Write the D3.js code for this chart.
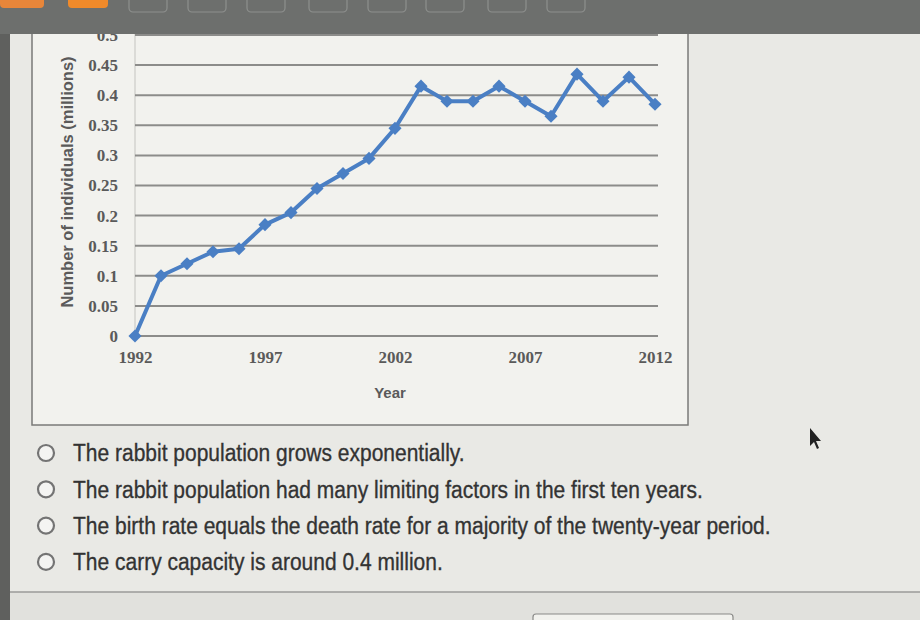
<!DOCTYPE html>
<html>
<head>
<meta charset="utf-8">
<script src="https://cdn.jsdelivr.net/npm/d3@7"></script>
<style>
  body { margin: 0; background: #e9e9e5; }
  svg { display: block; }
</style>
</head>
<body>
<div id="chart"></div>
<script>
  // values
  const years = [1992, 1993, 1994, 1995, 1996, 1997, 1998, 1999, 2000, 2001, 2002,
                 2003, 2004, 2005, 2006, 2007, 2008, 2009, 2010, 2011, 2012];
  const population = [0, 0.10, 0.12, 0.14, 0.145, 0.185, 0.205, 0.245, 0.27, 0.295, 0.345,
                      0.415, 0.39, 0.39, 0.415, 0.39, 0.365, 0.435, 0.39, 0.43, 0.385];
  const yTicks = [0, 0.05, 0.1, 0.15, 0.2, 0.25, 0.3, 0.35, 0.4, 0.45, 0.5];
  const xTicks = [1992, 1997, 2002, 2007, 2012];
  const options = [
    "The rabbit population grows exponentially.",
    "The rabbit population had many limiting factors in the first ten years.",
    "The birth rate equals the death rate for a majority of the twenty-year period.",
    "The carry capacity is around 0.4 million."
  ];

  const width = 920, height = 620;
  const svg = d3.select("#chart")
    .append("svg")
      .attr("width", width)
      .attr("height", height);

  // page background and left dark strip
  svg.append("rect").attr("width", width).attr("height", height).attr("fill", "#e9e9e5");
  svg.append("rect").attr("x", 0).attr("y", 0).attr("width", 10).attr("height", height).attr("fill", "#5f605e");

  // chart frame
  svg.append("rect")
    .attr("x", 32).attr("y", 20).attr("width", 656).attr("height", 405)
    .attr("fill", "#f2f2ee")
    .attr("stroke", "#7a7a78")
    .attr("stroke-width", 1.5);

  const x = d3.scaleLinear().domain([1992, 2012]).range([135, 655]);
  const y = d3.scaleLinear().domain([0, 0.5]).range([336, 35]);

  // plot area left edge
  svg.append("line")
    .attr("x1", 135).attr("x2", 135).attr("y1", 20).attr("y2", 336)
    .attr("stroke", "#c4c4c0").attr("stroke-width", 1);

  // gridlines
  svg.append("g")
    .selectAll("line")
    .data(yTicks)
    .join("line")
      .attr("x1", x(1992)).attr("x2", x(2012) + 3)
      .attr("y1", d => y(d)).attr("y2", d => y(d))
      .attr("stroke", "#8c8c8a")
      .attr("stroke-width", 2);

  const tickFont = "'Liberation Serif', 'Times New Roman', serif";

  // y axis labels
  const yAxis = d3.axisLeft(y).tickValues(yTicks).tickSize(0).tickPadding(0)
    .tickFormat(d => String(+d.toFixed(2)));
  const yG = svg.append("g")
    .attr("transform", "translate(118,0)")
    .call(yAxis);
  yG.select(".domain").remove();
  yG.selectAll("text")
    .attr("fill", "#5a5a5a")
    .style("font-family", tickFont)
    .style("font-size", "17px")
    .style("font-weight", "bold");

  // x axis labels
  const xAxis = d3.axisBottom(x).tickValues(xTicks).tickSize(0).tickPadding(0)
    .tickFormat(d3.format("d"));
  const xG = svg.append("g")
    .attr("transform", "translate(0,351)")
    .call(xAxis);
  xG.select(".domain").remove();
  xG.selectAll("text")
    .attr("fill", "#5a5a5a")
    .style("font-family", tickFont)
    .style("font-size", "17px")
    .style("font-weight", "bold");

  // axis titles
  svg.append("text")
    .attr("x", 390).attr("y", 398)
    .attr("text-anchor", "middle")
    .attr("fill", "#5a5a5a")
    .style("font-family", "'Liberation Sans', Arial, sans-serif")
    .style("font-size", "15px")
    .style("font-weight", "bold")
    .text("Year");

  svg.append("text")
    .attr("transform", "translate(73,182) rotate(-90)")
    .attr("text-anchor", "middle")
    .attr("fill", "#5a5a5a")
    .style("font-family", "'Liberation Sans', Arial, sans-serif")
    .style("font-size", "16.5px")
    .style("font-weight", "bold")
    .text("Number of individuals (millions)");

  // the series
  const series = years.map((yr, i) => ({year: yr, value: population[i]}));
  const line = d3.line().x(d => x(d.year)).y(d => y(d.value));
  svg.append("path")
    .datum(series)
    .attr("d", line)
    .attr("fill", "none")
    .attr("stroke", "#4a7fc4")
    .attr("stroke-width", 4)
    .attr("stroke-linejoin", "round");

  svg.append("g")
    .selectAll("path")
    .data(series)
    .join("path")
      .attr("d", d3.symbol(d3.symbolDiamond2, 110))
      .attr("transform", d => `translate(${x(d.year)},${y(d.value)})`)
      .attr("fill", "#4a7fc4");

  // top toolbar band
  svg.append("rect").attr("x", 0).attr("y", 0).attr("width", width).attr("height", 34).attr("fill", "#6d6f6d");
  svg.append("rect").attr("x", 0).attr("y", -6).attr("width", 44).attr("height", 14).attr("rx", 4).attr("fill", "#e8863a");
  svg.append("rect").attr("x", 68).attr("y", -6).attr("width", 40).attr("height", 14).attr("rx", 4).attr("fill", "#f08a2a");
  const tabs = [129, 188, 247, 309, 368, 426, 488, 547];
  svg.append("g")
    .selectAll("rect")
    .data(tabs)
    .join("rect")
      .attr("x", d => d).attr("y", -6)
      .attr("width", 38).attr("height", 18).attr("rx", 4)
      .attr("fill", "none")
      .attr("stroke", "#8e908e")
      .attr("stroke-width", 1.2);

  // answer options
  const opt = svg.append("g")
    .selectAll("g")
    .data(options)
    .join("g")
      .attr("transform", (d, i) => `translate(0,${453 + i * 36.3})`);
  opt.append("circle")
    .attr("cx", 46).attr("cy", 0).attr("r", 8)
    .attr("fill", "#f4f4f2")
    .attr("stroke", "#747474")
    .attr("stroke-width", 2.2);
  opt.append("text")
    .attr("x", 73).attr("y", 0)
    .attr("dy", "0.36em")
    .attr("transform", "scale(1,1.12)")
    .attr("transform-origin", "0 0")
    .attr("fill", "#333")
    .attr("stroke", "#333")
    .attr("stroke-width", 0.3)
    .style("font-family", "'Liberation Sans', Arial, sans-serif")
    .style("font-size", "21px")
    .text(d => d);

  // bottom separator and button outline
  svg.append("rect").attr("x", 10).attr("y", 592).attr("width", width - 10).attr("height", 28).attr("fill", "#e1e1dd");
  svg.append("line")
    .attr("x1", 10).attr("x2", width).attr("y1", 592).attr("y2", 592)
    .attr("stroke", "#9a9a98").attr("stroke-width", 1.5);
  svg.append("rect")
    .attr("x", 533).attr("y", 614).attr("width", 200).attr("height", 20).attr("rx", 3)
    .attr("fill", "#f2f2ee").attr("stroke", "#8a8a88").attr("stroke-width", 1.2);

  // mouse pointer
  svg.append("path")
    .attr("d", "M810,428 L810,446 L814,442 L817,449 L819,448 L816,441 L821,441 Z")
    .attr("fill", "#222");
</script>
</body>
</html>
